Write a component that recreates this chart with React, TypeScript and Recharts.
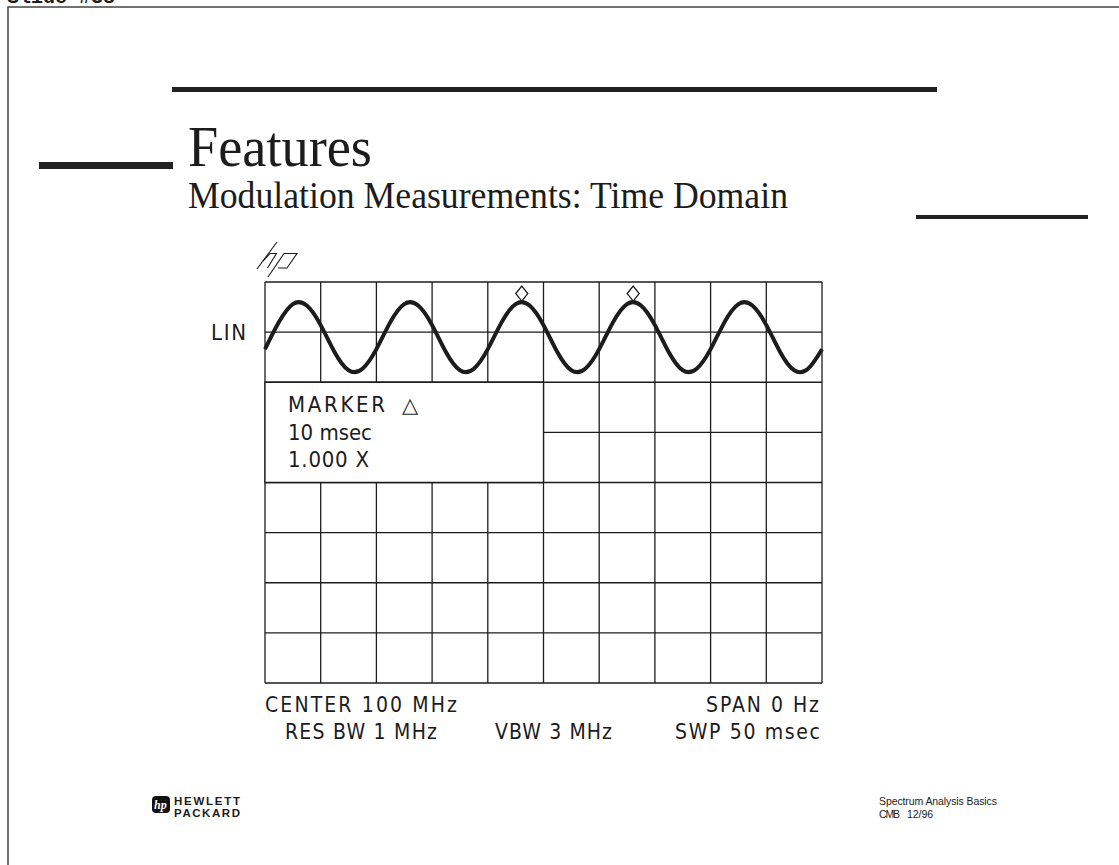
import React from "react";
import {
  ComposedChart,
  Line,
  XAxis,
  YAxis,
  CartesianGrid,
  ReferenceArea,
  ReferenceDot,
} from "recharts";

// Zero-span sweep: 50 msec over 10 divisions, trace sampled every quarter division
const sweepTimeMs = [
  0, 1.25, 2.5, 3.75, 5, 6.25, 7.5, 8.75, 10, 11.25, 12.5, 13.75, 15, 16.25,
  17.5, 18.75, 20, 21.25, 22.5, 23.75, 25, 26.25, 27.5, 28.75, 30, 31.25, 32.5,
  33.75, 35, 36.25, 37.5, 38.75, 40, 41.25, 42.5, 43.75, 45, 46.25, 47.5, 48.75,
  50,
];

// Detected AM envelope on the LIN scale (0 = bottom graticule line, 8 = top)
const traceLevel = [
  6.66, 7.2, 7.56, 7.53, 7.14, 6.6, 6.24, 6.27,
  6.66, 7.2, 7.56, 7.53, 7.14, 6.6, 6.24, 6.27,
  6.66, 7.2, 7.56, 7.53, 7.14, 6.6, 6.24, 6.27,
  6.66, 7.2, 7.56, 7.53, 7.14, 6.6, 6.24, 6.27,
  6.66, 7.2, 7.56, 7.53, 7.14, 6.6, 6.24, 6.27,
  6.66,
];

// Graticule: 10 horizontal divisions (5 msec each), 8 vertical divisions
const divisionTicksMs = [0, 5, 10, 15, 20, 25, 30, 35, 40, 45, 50];
const levelTicks = [0, 1, 2, 3, 4, 5, 6, 7, 8];

// Delta marker pair on two successive peaks, 10 msec apart
const markerTimesMs = [23.05, 33.05];
const markerPeakLevel = 7.6;

// Marker readout window blanks part of the graticule
const readoutTimeMs = [0, 25];
const readoutLevel = [4, 6];

const readoutLines = ["MARKER", "10 msec", "1.000 X"];
const annotationTop = ["CENTER 100 MHz", "SPAN 0 Hz"];
const annotationBottom = ["RES BW 1 MHz", "VBW 3 MHz", "SWP 50 msec"];

const traceData = sweepTimeMs.map((t, i) => ({ t, level: traceLevel[i] }));

const INK = "#1c1c1c";
const INSTR_FONT =
  "'Liberation Sans Narrow', 'DejaVu Sans Condensed', 'Liberation Sans', Arial, sans-serif";
const SERIF = "'Liberation Serif', 'DejaVu Serif', serif";
const SANS = "'Liberation Sans', Arial, sans-serif";

const Diamond = (props: any) => {
  const { cx, cy } = props;
  if (cx == null || cy == null) return null;
  const d = `M${cx},${cy - 1} L${cx + 6},${cy - 8.5} L${cx},${cy - 16} L${cx - 6},${cy - 8.5} Z`;
  return <path d={d} fill="#fff" stroke={INK} strokeWidth={1.3} />;
};

type TxtProps = {
  x: number;
  y: number;
  w?: number;
  size: number;
  family: string;
  weight?: number | string;
  squeeze?: boolean;
  children: React.ReactNode;
};

const Txt = ({ x, y, w, size, family, weight, squeeze, children }: TxtProps) => (
  <text
    x={x}
    y={y}
    fontSize={size}
    fontFamily={family}
    fontWeight={weight ?? "normal"}
    fill={INK}
    textLength={w}
    lengthAdjust={squeeze ? "spacingAndGlyphs" : "spacing"}
  >
    {children}
  </text>
);

export default function App() {
  return (
    <div
      style={{
        position: "absolute",
        left: 0,
        top: 0,
        width: 1119,
        height: 865,
        overflow: "hidden",
        background: "#fff",
      }}
    >
      <div style={{ position: "absolute", left: 255, top: 272 }}>
        <ComposedChart
          width={577}
          height={421}
          data={traceData}
          margin={{ top: 10, right: 10, bottom: 10, left: 10 }}
        >
          <XAxis
            dataKey="t"
            type="number"
            domain={[0, 50]}
            ticks={divisionTicksMs}
            interval={0}
            hide
          />
          <YAxis
            type="number"
            domain={[0, 8]}
            ticks={levelTicks}
            interval={0}
            hide
          />
          <CartesianGrid stroke={INK} strokeWidth={1.3} />
          <ReferenceArea
            x1={readoutTimeMs[0]}
            x2={readoutTimeMs[1]}
            y1={readoutLevel[0]}
            y2={readoutLevel[1]}
            fill="#fff"
            fillOpacity={1}
            stroke={INK}
            strokeWidth={1.3}
            ifOverflow="visible"
          />
          <Line
            type="natural"
            dataKey="level"
            stroke={INK}
            strokeWidth={4}
            dot={false}
            activeDot={false}
            isAnimationActive={false}
          />
          {markerTimesMs.map((t) => (
            <ReferenceDot
              key={t}
              x={t}
              y={markerPeakLevel}
              shape={Diamond}
              ifOverflow="visible"
            />
          ))}
        </ComposedChart>
      </div>

      <svg
        width={1119}
        height={865}
        style={{ position: "absolute", left: 0, top: 0, pointerEvents: "none" }}
      >
        {/* slide frame and slide number */}
        <rect x={8} y={7} width={1200} height={900} fill="none" stroke="#444" strokeWidth={1.5} />
        <Txt x={7} y={3} w={108} size={20} weight="bold" family="'Liberation Mono', 'DejaVu Sans Mono', monospace">
          Slide #38
        </Txt>

        {/* title rules */}
        <rect x={172} y={87} width={765} height={5} fill="#222" />
        <rect x={39} y={162} width={134} height={7} fill="#222" />
        <rect x={916} y={215} width={172} height={4} fill="#222" />

        <Txt x={188} y={166} w={184} size={58} family={SERIF} squeeze>
          Features
        </Txt>
        <Txt x={188} y={208} w={600} size={37} family={SERIF} squeeze>
          Modulation Measurements: Time Domain
        </Txt>

        {/* instrument logo above the graticule */}
        <g fill="none" stroke={INK} strokeWidth={1.1}>
          <path d="M257,269 L277,242" />
          <path d="M263,261 L270,253.5 L276.5,253.5 L267.5,268" />
          <path d="M268,277 L284,253.5 L297,253.5 L287,268 L278,268" />
        </g>

        {/* screen annotations */}
        <Txt x={211} y={340} w={35} size={22} family={INSTR_FONT}>
          LIN
        </Txt>
        <Txt x={288} y={412} w={97} size={22} family={INSTR_FONT}>
          {readoutLines[0]}
        </Txt>
        <text x={402} y={412} fontSize={21} fontFamily="'DejaVu Sans', sans-serif" fill={INK}>
          △
        </text>
        <Txt x={288} y={440} w={84} size={22} family={INSTR_FONT}>
          {readoutLines[1]}
        </Txt>
        <Txt x={288} y={467} w={81} size={22} family={INSTR_FONT}>
          {readoutLines[2]}
        </Txt>

        <Txt x={265} y={712} w={192} size={21} family={INSTR_FONT}>
          {annotationTop[0]}
        </Txt>
        <Txt x={706} y={712} w={113} size={21} family={INSTR_FONT}>
          {annotationTop[1]}
        </Txt>
        <Txt x={285} y={739} w={152} size={21} family={INSTR_FONT}>
          {annotationBottom[0]}
        </Txt>
        <Txt x={495} y={739} w={117} size={21} family={INSTR_FONT}>
          {annotationBottom[1]}
        </Txt>
        <Txt x={675} y={739} w={145} size={21} family={INSTR_FONT}>
          {annotationBottom[2]}
        </Txt>

        {/* company logo */}
        <rect x={152} y={796} width={18} height={17} rx={4} fill="#111" />
        <text
          x={154}
          y={809}
          fontSize={12}
          fontStyle="italic"
          fontWeight="bold"
          fontFamily={SERIF}
          fill="#fff"
        >
          hp
        </text>
        <Txt x={174} y={805} w={66} size={11.5} family={SANS} weight="bold">
          HEWLETT
        </Txt>
        <Txt x={174} y={817} w={66} size={11.5} family={SANS} weight="bold">
          PACKARD
        </Txt>

        {/* footer */}
        <Txt x={879} y={805} w={118} size={10.5} family={SANS}>
          Spectrum Analysis Basics
        </Txt>
        <Txt x={879} y={818} w={21} size={10.5} family={SANS}>
          CMB
        </Txt>
        <Txt x={907} y={818} w={26} size={10.5} family={SANS}>
          12/96
        </Txt>
      </svg>
    </div>
  );
}
